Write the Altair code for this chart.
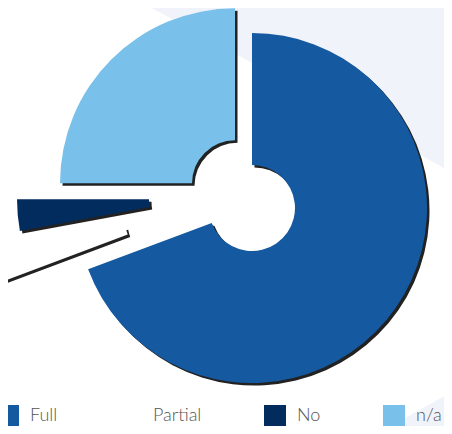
import altair as alt
import pandas as pd

# ---- data ----
categories = ["Full", "Partial", "No", "n/a"]
shares = [69.3, 2.8, 2.9, 25.0]
colors = ["#1559A1", "#FFFFFF", "#032C5E", "#79C0EA"]

df = pd.DataFrame({"answer": categories, "share": shares,
                   "idx": list(range(len(categories)))})

# ---- layout / style ----
W, H = 436, 418
INNER, OUTER = 43, 175
SHADOW = 2.5
# centre of each (exploded) slice, in pixels
centres = {"Full": (244, 200), "Partial": (160, 211.5),
           "No": (184, 191.3), "n/a": (227, 175.3)}

base = alt.Chart(df).transform_window(
    cum="sum(share)", sort=[alt.SortField("idx")], frame=[None, 0]
).transform_joinaggregate(total="sum(share)").transform_calculate(
    start="(datum.cum - datum.share) / datum.total",
    end="datum.cum / datum.total",
)

theta = alt.Theta("start:Q", scale=alt.Scale(domain=[0, 1]))
theta2 = alt.Theta2("end:Q")
color = alt.Color(
    "answer:N",
    scale=alt.Scale(domain=categories, range=colors),
    legend=alt.Legend(
        title=None, orient="none", legendX=-11, legendY=397,
        direction="horizontal", symbolType="square", symbolSize=484,
        symbolStrokeWidth=0, symbolOpacity=1, labelFontSize=18,
        labelFont="Lato", labelFontWeight=300, labelColor="#555555",
        labelOffset=11, columnPadding=62, padding=0,
    ),
)

one = alt.Chart(pd.DataFrame({"k": [0]}))
bg_top = one.mark_rule(color="#F0F3F9", strokeWidth=400, strokeCap="butt").encode(
    x=alt.value(-37), y=alt.value(-327), x2=alt.value(803), y2=alt.value(133))
bg_bottom = one.mark_rule(color="#F0F3F9", strokeWidth=200, strokeCap="butt").encode(
    x=alt.value(331), y=alt.value(562), x2=alt.value(580), y2=alt.value(422))

shadows, fills = [], []
for cat in categories:
    cx, cy = centres[cat]
    sub = base.transform_filter(alt.datum.answer == cat)
    shadows.append(sub.mark_arc(innerRadius=INNER, outerRadius=OUTER,
                                color="#222222").encode(
        theta=theta, theta2=theta2,
        x=alt.value(cx + SHADOW), y=alt.value(cy + SHADOW)))
    fills.append(sub.mark_arc(innerRadius=INNER, outerRadius=OUTER).encode(
        theta=theta, theta2=theta2, color=color,
        x=alt.value(cx), y=alt.value(cy)))

chart = alt.layer(bg_top, bg_bottom, *shadows, *fills).properties(
    width=W, height=H, padding=0,
    autosize=alt.AutoSizeParams(type="none"),
    background="white",
).configure_view(stroke="transparent")

chart.save("out.html", embed_options={"renderer": "svg", "actions": False})
